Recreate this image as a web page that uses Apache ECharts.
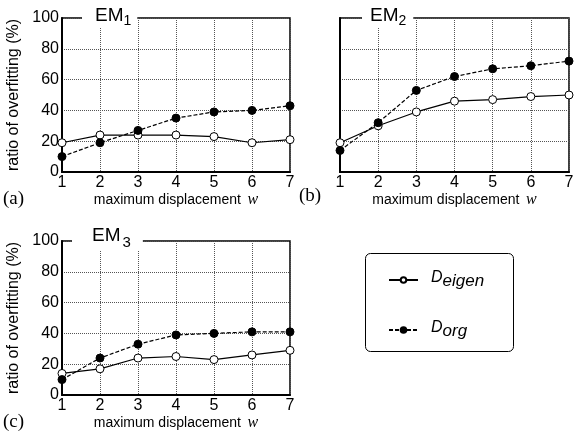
<!DOCTYPE html>
<html>
<head>
<meta charset="utf-8">
<script src="https://cdn.jsdelivr.net/npm/echarts@6/dist/echarts.min.js"></script>
<style>
  html, body { margin: 0; padding: 0; background: #fff; }
  #chart { width: 580px; height: 435px; }
</style>
</head>
<body>
<div id="chart"></div>
<script>
// maximum displacement w
const displacement = [1, 2, 3, 4, 5, 6, 7]
const yTicks = [0, 20, 40, 60, 80, 100]

// ratio of overfitting (%)
const em1Eigen = [19, 24, 24, 24, 23, 19, 21]
const em1Org = [10, 19, 27, 35, 39, 40, 43]
const em2Eigen = [19, 30, 39, 46, 47, 49, 50]
const em2Org = [14, 32, 53, 62, 67, 69, 72]
const em3Eigen = [14, 17, 24, 25, 23, 26, 29]
const em3Org = [10, 24, 33, 39, 40, 41, 41]

const panels = [
  { title: '{m|EM}{s|1}', tag: '(a)', eigen: em1Eigen, org: em1Org, yLabels: true },
  { title: '{m|EM}{s|2}', tag: '(b)', eigen: em2Eigen, org: em2Org, yLabels: false },
  { title: '{m3|EM}{s3|3}', tag: '(c)', eigen: em3Eigen, org: em3Org, yLabels: true }
]

const grids = [
  { left: 62, top: 18, width: 228, height: 154 },
  { left: 340, top: 18, width: 229, height: 154 },
  { left: 62, top: 241, width: 228, height: 154 }
]

// where the title cuts the top border: offset from grid left, padding left/right, top
const titleGaps = [[20, 13, 6, 6], [22, 8, 7, 6], [10, 20, 12, 226]]

const font = 'Liberation Sans, Arial, sans-serif'
const dotted = { color: '#555', type: 'dotted', width: 1 }

function pairs(vals) {
  return displacement.map((x, i) => [x, vals[i]])
}

const chart = echarts.init(document.getElementById('chart'))

// line height = largest token lineHeight; 'bottom' tokens drop below the 'top' ones
const titleRich = {
  m: { fontSize: 19, fontFamily: font, fontWeight: 'normal', color: '#000', verticalAlign: 'top', lineHeight: 22 },
  s: { fontSize: 14, fontFamily: font, fontWeight: 'normal', color: '#000', verticalAlign: 'bottom', lineHeight: 14 },
  m3: { fontSize: 19, fontFamily: font, fontWeight: 'normal', color: '#000', verticalAlign: 'top', lineHeight: 24 },
  s3: { fontSize: 15, fontFamily: font, fontWeight: 'normal', color: '#000', verticalAlign: 'bottom', lineHeight: 15, padding: [0, 0, 0, 2] }
}

const option = {
  animation: false,
  backgroundColor: '#fff',
  title: panels.map((p, i) => ({
    text: p.title,
    left: grids[i].left + titleGaps[i][0],
    top: titleGaps[i][3],
    padding: [0, titleGaps[i][2], 0, titleGaps[i][1]],
    backgroundColor: '#fff',
    textStyle: { rich: titleRich, fontWeight: 'normal' }
  })),
  grid: grids.map(g => Object.assign({
    show: true,
    borderColor: '#000',
    borderWidth: 1.5,
    backgroundColor: 'transparent'
  }, g)),
  legend: {
    orient: 'vertical',
    left: 388,
    top: 270,
    padding: 0,
    itemWidth: 29,
    itemHeight: 7,
    itemGap: 30,
    data: ['Deigen', 'Dorg'],
    formatter: name => '{d|D}{s|' + name.slice(1) + '}',
    textStyle: {
      rich: {
        d: { fontSize: 16, fontStyle: 'italic', fontFamily: font, color: '#000', padding: [0, 0, 0, 8], verticalAlign: 'top', lineHeight: 20 },
        s: { fontSize: 17, fontStyle: 'italic', fontFamily: font, color: '#000', verticalAlign: 'bottom', lineHeight: 17 }
      }
    }
  },
  xAxis: panels.map((p, i) => ({
    type: 'value',
    gridIndex: i,
    min: 1,
    max: 7,
    interval: 1,
    name: '{t|maximum displacement}  {w|w}',
    nameLocation: 'middle',
    nameGap: 20,
    nameTextStyle: {
      rich: {
        t: { fontSize: 14, fontFamily: font, color: '#000' },
        w: { fontSize: 16, fontFamily: 'Liberation Serif, Times New Roman, serif', fontStyle: 'italic', color: '#000' }
      }
    },
    axisLine: { show: true, onZero: false, lineStyle: { color: '#000', width: 2 } },
    axisTick: { show: false },
    axisLabel: { fontSize: 16, fontFamily: font, color: '#000', margin: 3 },
    splitLine: { show: true, lineStyle: dotted }
  })),
  yAxis: panels.map((p, i) => ({
    type: 'value',
    gridIndex: i,
    min: yTicks[0],
    max: yTicks[yTicks.length - 1],
    interval: yTicks[1] - yTicks[0],
    name: p.yLabels ? 'ratio of overfitting (%)' : '',
    nameLocation: 'middle',
    nameGap: 40,
    nameTextStyle: { fontSize: 16, fontFamily: font, color: '#000' },
    axisLine: { show: true, onZero: false, lineStyle: { color: '#000', width: 2 } },
    axisTick: { show: false },
    axisLabel: { show: p.yLabels, fontSize: 16, fontFamily: font, color: '#000', margin: 3 },
    splitLine: { show: true, lineStyle: dotted }
  })),
  graphic: panels.map((p, i) => ({
    type: 'text',
    left: i === 1 ? 299 : 3,
    top: grids[i].top + grids[i].height + (i === 1 ? 15 : 18),
    style: {
      text: p.tag,
      fontSize: 19,
      fontFamily: 'Liberation Serif, Times New Roman, serif',
      fill: '#000'
    }
  })),
  series: []
}

panels.forEach((p, i) => {
  option.series.push({
    name: 'Deigen',
    type: 'line',
    xAxisIndex: i,
    yAxisIndex: i,
    data: pairs(p.eigen),
    symbol: 'circle',
    symbolSize: 8,
    z: 3,
    lineStyle: { color: '#000', width: 1.2 },
    itemStyle: { color: '#fff', borderColor: '#000', borderWidth: 1 }
  })
  option.series.push({
    name: 'Dorg',
    type: 'line',
    xAxisIndex: i,
    yAxisIndex: i,
    data: pairs(p.org),
    symbol: 'circle',
    symbolSize: 8,
    z: 4,
    lineStyle: { color: '#000', width: 1.2, type: [4, 2] },
    itemStyle: { color: '#000', borderColor: '#000', borderWidth: 1 }
  })
})

// rounded legend frame
option.graphic.push({
  type: 'rect',
  left: 363,
  top: 251,
  shape: { width: 148, height: 98, r: 5 },
  style: { fill: 'none', stroke: '#000', lineWidth: 1 }
})

chart.setOption(option)
</script>
</body>
</html>
